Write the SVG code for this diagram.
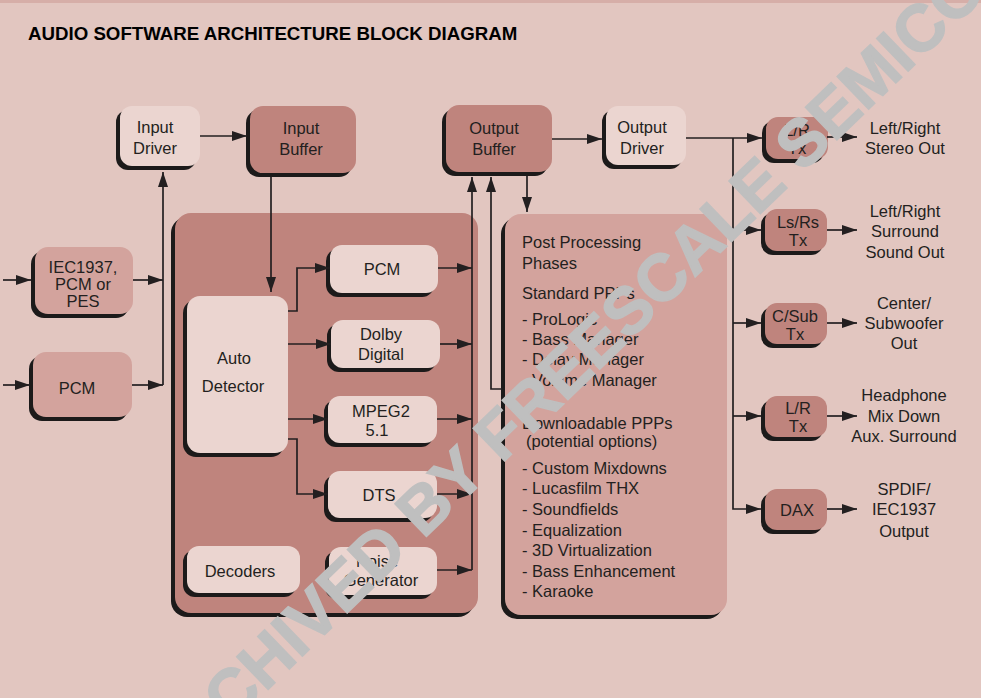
<svg xmlns="http://www.w3.org/2000/svg" width="981" height="698" viewBox="0 0 981 698">
<defs>
<marker id="ah" markerUnits="userSpaceOnUse" markerWidth="15" markerHeight="10" refX="15" refY="5" orient="auto" viewBox="0 0 15 10">
<path d="M0,0 L15,5 L0,10 z" fill="#231f20"/>
</marker>
</defs>
<style>
text{font-family:"Liberation Sans",Arial,sans-serif;font-size:16.5px;fill:#231f20}
.c{text-anchor:middle}
.sh{fill:#1c1a1a}
.dk{fill:#bf847d}
.md{fill:#d3a39d}
.lt{fill:#ebd5d0}
.ln{fill:none;stroke:#231f20;stroke-width:1.7}
.ar{marker-end:url(#ah)}
.wm{font-family:"Liberation Sans",Arial,sans-serif;font-weight:bold;font-size:66px;fill:#bfbfbf;stroke:#bfbfbf;stroke-width:1.5;text-anchor:middle}
</style>
<rect x="0" y="0" width="981" height="698" fill="#e2c6c0"/>
<rect x="0" y="0" width="981" height="3" fill="#d6aea8"/>
<text x="28" y="39.5" style="font-weight:bold;font-size:18.7px;fill:#000">AUDIO SOFTWARE ARCHITECTURE BLOCK DIAGRAM</text>

<g id="decoderPanel"><rect class="sh" x="171" y="217" width="303" height="400" rx="16"/><rect class="dk" x="175" y="213" width="303" height="400" rx="16"/></g>
<g id="postProcessing"><rect class="sh" x="501" y="218" width="222" height="401" rx="16"/><rect class="md" x="505" y="214" width="222" height="401" rx="16"/>
<text x="522" y="248">Post Processing</text>
<text x="522" y="268.5">Phases</text>
<text x="522" y="299">Standard PPPs</text>
<text x="522" y="324.5">- ProLogic</text>
<text x="522" y="344.5">- Bass Manager</text>
<text x="522" y="365">- Delay Manager</text>
<text x="522" y="385.5">- Volume Manager</text>
<text x="522" y="429">Downloadable PPPs</text>
<text x="526" y="446.5">(potential options)</text>
<text x="522" y="473.5">- Custom Mixdowns</text>
<text x="522" y="494">- Lucasfilm THX</text>
<text x="522" y="514.5">- Soundfields</text>
<text x="522" y="535.5">- Equalization</text>
<text x="522" y="555.5">- 3D Virtualization</text>
<text x="522" y="576.5">- Bass Enhancement</text>
<text x="522" y="596.5">- Karaoke</text>
</g>

<g id="inputDriver"><rect class="sh" x="116" y="110" width="80" height="60" rx="12"/><rect class="lt" x="120" y="106" width="80" height="60" rx="12"/><text class="c" x="155" y="133">Input</text><text class="c" x="155" y="153.5">Driver</text></g>
<g id="inputBuffer"><rect class="sh" x="246" y="110" width="106" height="67" rx="13"/><rect class="dk" x="250" y="106" width="106" height="67" rx="13"/><text class="c" x="301" y="134">Input</text><text class="c" x="301" y="155">Buffer</text></g>
<g id="iec1937"><rect class="sh" x="31" y="251" width="98" height="67" rx="13"/><rect class="md" x="35" y="247" width="98" height="67" rx="13"/><text class="c" x="83" y="273">IEC1937,</text><text class="c" x="83" y="290">PCM or</text><text class="c" x="83" y="307">PES</text></g>
<g id="pcmInput"><rect class="sh" x="29" y="356" width="99" height="65" rx="13"/><rect class="md" x="33" y="352" width="99" height="65" rx="13"/><text class="c" x="77" y="393.5">PCM</text></g>
<g id="autoDetector"><rect class="sh" x="183" y="300" width="101" height="157" rx="13"/><rect class="lt" x="187" y="296" width="101" height="157" rx="13"/><text class="c" x="234" y="364">Auto</text><text class="c" x="233" y="392">Detector</text></g>
<g id="pcm"><rect class="sh" x="326" y="249" width="108" height="48" rx="12"/><rect class="lt" x="330" y="245" width="108" height="48" rx="12"/><text class="c" x="382" y="275">PCM</text></g>
<g id="dolbyDigital"><rect class="sh" x="327" y="324" width="109" height="48" rx="12"/><rect class="lt" x="331" y="320" width="109" height="48" rx="12"/><text class="c" x="381" y="340">Dolby</text><text class="c" x="381" y="360">Digital</text></g>
<g id="mpeg2"><rect class="sh" x="324" y="400" width="109" height="47" rx="12"/><rect class="lt" x="328" y="396" width="109" height="47" rx="12"/><text class="c" x="381" y="417">MPEG2</text><text class="c" x="377" y="436">5.1</text></g>
<g id="dts"><rect class="sh" x="324" y="475" width="109" height="47" rx="12"/><rect class="lt" x="328" y="471" width="109" height="47" rx="12"/><text class="c" x="379" y="501">DTS</text></g>
<g id="noiseGenerator"><rect class="sh" x="325" y="551" width="108" height="48" rx="12"/><rect class="lt" x="329" y="547" width="108" height="48" rx="12"/><text class="c" x="377" y="567">Noise</text><text class="c" x="381" y="586">Generator</text></g>
<g id="decoders"><rect class="sh" x="183" y="550" width="113" height="47" rx="12"/><rect class="lt" x="187" y="546" width="113" height="47" rx="12"/><text class="c" x="240" y="576.5">Decoders</text></g>
<g id="outputBuffer"><rect class="sh" x="442" y="109" width="106" height="67" rx="13"/><rect class="dk" x="446" y="105" width="106" height="67" rx="13"/><text class="c" x="494" y="134">Output</text><text class="c" x="494" y="155">Buffer</text></g>
<g id="outputDriver"><rect class="sh" x="602" y="110" width="80" height="59" rx="12"/><rect class="lt" x="606" y="106" width="80" height="59" rx="12"/><text class="c" x="642" y="133">Output</text><text class="c" x="642" y="154">Driver</text></g>
<g id="lrTx"><rect class="sh" x="762" y="121" width="62" height="42" rx="12"/><rect class="dk" x="766" y="117" width="62" height="42" rx="12"/><text class="c" x="797" y="136">L/R</text><text class="c" x="797" y="154">Tx</text></g>
<g id="lsrsTx"><rect class="sh" x="761" y="213" width="62" height="42" rx="12"/><rect class="dk" x="765" y="209" width="62" height="42" rx="12"/><text class="c" x="798" y="228">Ls/Rs</text><text class="c" x="798" y="246">Tx</text></g>
<g id="csubTx"><rect class="sh" x="761" y="307" width="62" height="41" rx="12"/><rect class="dk" x="765" y="303" width="62" height="41" rx="12"/><text class="c" x="795" y="322">C/Sub</text><text class="c" x="795" y="340">Tx</text></g>
<g id="lrTx2"><rect class="sh" x="761" y="400" width="62" height="41" rx="12"/><rect class="dk" x="765" y="396" width="62" height="41" rx="12"/><text class="c" x="798" y="414">L/R</text><text class="c" x="798" y="432">Tx</text></g>
<g id="dax"><rect class="sh" x="761" y="493" width="62" height="41" rx="12"/><rect class="dk" x="765" y="489" width="62" height="41" rx="12"/><text class="c" x="797" y="515.5">DAX</text></g>

<g id="outLabels">
<text class="c" x="905" y="133.5">Left/Right</text><text class="c" x="905" y="154">Stereo Out</text>
<text class="c" x="905" y="217">Left/Right</text><text class="c" x="905" y="237">Surround</text><text class="c" x="905" y="257.5">Sound Out</text>
<text class="c" x="904" y="308.5">Center/</text><text class="c" x="904" y="329">Subwoofer</text><text class="c" x="904" y="349">Out</text>
<text class="c" x="904" y="401">Headphone</text><text class="c" x="904" y="422">Mix Down</text><text class="c" x="904" y="442">Aux. Surround</text>
<text class="c" x="904" y="494.5">SPDIF/</text><text class="c" x="904" y="515">IEC1937</text><text class="c" x="904" y="537">Output</text>
</g>

<g id="connectors">
<path class="ln ar" d="M3,280 H31"/>
<path class="ln ar" d="M3,385 H30"/>
<path class="ln ar" d="M133,280 H163"/>
<path class="ln ar" d="M132,385 H163"/>
<path class="ln ar" d="M163,385 V172"/>
<path class="ln ar" d="M200,136 H247"/>
<path class="ln ar" d="M271,177 V292"/>
<path class="ln ar" d="M288,311 H297 V268 H330"/>
<path class="ln ar" d="M288,344 H331"/>
<path class="ln ar" d="M288,419 H328"/>
<path class="ln ar" d="M288,439 H297 V494 H328"/>
<path class="ln ar" d="M438,268 H472"/>
<path class="ln ar" d="M440,344 H472"/>
<path class="ln ar" d="M437,419 H472"/>
<path class="ln ar" d="M437,494 H472"/>
<path class="ln ar" d="M437,570 H472"/>
<path class="ln ar" d="M472,570 V177"/>
<path class="ln ar" d="M502,389 H491 V177"/>
<path class="ln ar" d="M527,176 V212"/>
<path class="ln ar" d="M552,139 H602"/>
<path class="ln ar" d="M686,138 H762"/>
<path class="ln ar" d="M733,138 V509 H761"/>
<path class="ln ar" d="M733,230 H761"/>
<path class="ln ar" d="M733,323 H761"/>
<path class="ln ar" d="M733,416 H761"/>
<path class="ln ar" d="M827,137 H857"/>
<path class="ln ar" d="M827,230 H857"/>
<path class="ln ar" d="M827,323 H857"/>
<path class="ln ar" d="M827,416 H857"/>
<path class="ln ar" d="M827,509 H857"/>
</g>

<text class="wm" x="694" y="278" transform="rotate(-44 694 278)">ARCHIVED BY FREESCALE SEMICONDUCTOR</text>
</svg>
